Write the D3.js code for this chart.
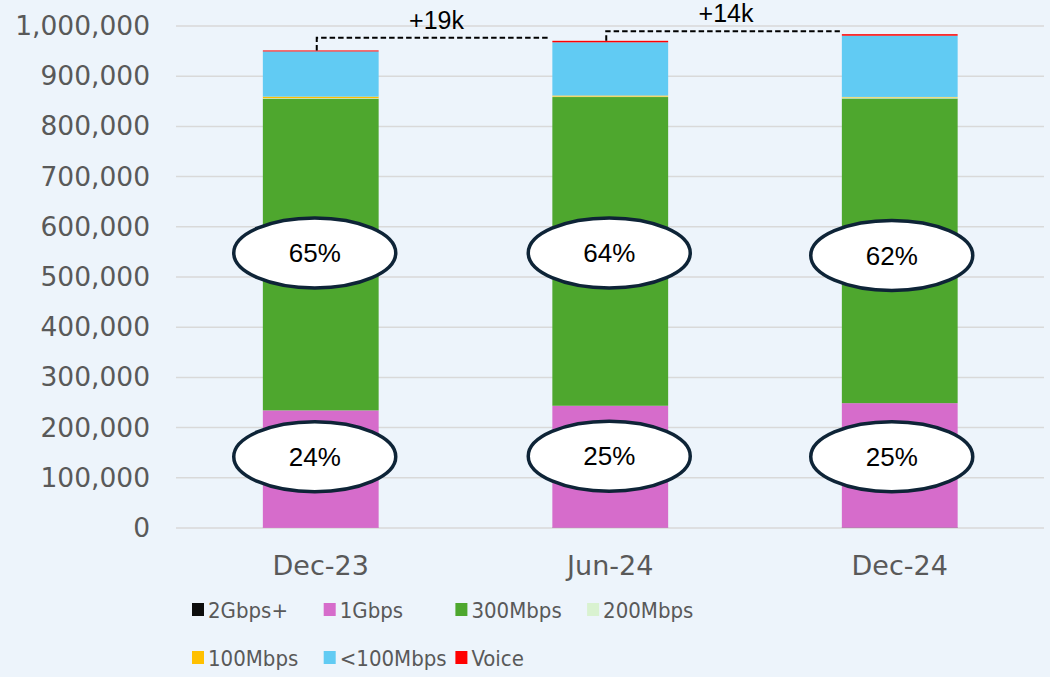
<!DOCTYPE html>
<html>
<head>
<meta charset="utf-8">
<script src="https://cdn.jsdelivr.net/npm/d3@7"></script>
<style>
  body { margin: 0; background: #edf4fb; }
  svg { display: block; }
</style>
</head>
<body>
<div id="chart"></div>
<script>
// data
const periods = ["Dec-23", "Jun-24", "Dec-24"];
const speeds = ["2Gbps+", "1Gbps", "300Mbps", "200Mbps", "100Mbps", "<100Mbps", "Voice"];
const gbps2 = [300, 500, 700];
const gbps1 = [234000, 243000, 248000];
const mbps300 = [621000, 615000, 607000];
const mbps200 = [1000, 1000, 2000];
const mbps100 = [3000, 2000, 1000];
const under100 = [90000, 106000, 122000];
const voice = [2000, 3000, 3000];
const share300 = ["65%", "64%", "62%"];
const share1g = ["24%", "25%", "25%"];
const deltas = ["+19k", "+14k"];
const yTicks = [0, 100000, 200000, 300000, 400000, 500000, 600000, 700000, 800000, 900000, 1000000];

const colors = ["#0d0d0d", "#d66ccb", "#4ea72e", "#d9f2d0", "#ffc000", "#61cbf3", "#ff0000"];

const series = [gbps2, gbps1, mbps300, mbps200, mbps100, under100, voice];
const rows = periods.map((p, i) => {
  const r = {period: p};
  speeds.forEach((s, k) => { r[s] = series[k][i]; });
  return r;
});

const W = 1050, H = 677;
const margin = {top: 26, right: 6, bottom: 149, left: 176};
const width = W - margin.left - margin.right,
      height = H - margin.top - margin.bottom;

const svg = d3.select("#chart").append("svg")
    .attr("width", W)
    .attr("height", H)
    .style("background", "#edf4fb");

const g = svg.append("g")
    .attr("transform", `translate(${margin.left}, ${margin.top})`);

const x = d3.scaleBand().domain(periods).range([0, width + 0.5])
    .paddingInner(0.6).paddingOuter(0.3);
const y = d3.scaleLinear().domain([0, 1000000]).range([height, 0]);

// gridlines
g.append("g")
  .selectAll("line")
  .data(yTicks)
  .join("line")
    .attr("x1", 0)
    .attr("x2", width)
    .attr("y1", d => y(d))
    .attr("y2", d => y(d))
    .attr("stroke", "#d9d9d9")
    .attr("stroke-width", 1.5);

// y axis labels
const yAxis = g.append("g")
  .call(d3.axisLeft(y).tickValues(yTicks).tickFormat(d3.format(",")).tickSize(0).tickPadding(26));
yAxis.select(".domain").remove();
yAxis.selectAll("text")
  .attr("fill", "#595959")
  .style("font-family", "'DejaVu Sans', Verdana, sans-serif")
  .style("font-size", "26.5px");

// x axis labels
const xAxis = g.append("g")
  .attr("transform", `translate(0, ${height})`)
  .call(d3.axisBottom(x).tickSize(0).tickPadding(28));
xAxis.select(".domain").remove();
xAxis.selectAll("text")
  .attr("fill", "#595959")
  .style("font-family", "'DejaVu Sans', Verdana, sans-serif")
  .style("font-size", "27px");

// stacked bars
const stacked = d3.stack().keys(speeds)(rows);

g.append("g")
  .selectAll("g")
  .data(stacked)
  .join("g")
    .attr("fill", (d, i) => colors[i])
  .selectAll("rect")
  .data(d => d)
  .join("rect")
    .attr("x", d => x(d.data.period))
    .attr("y", d => y(d[1]))
    .attr("width", x.bandwidth())
    .attr("height", d => y(d[0]) - y(d[1]));

// growth connectors
const totals = rows.map(r => d3.sum(speeds, s => r[s]));
const ann = g.append("g");
deltas.forEach((lbl, i) => {
  const x0 = x(periods[i]) + x.bandwidth() / 2 - 4;
  const x1 = x(periods[i + 1]) - 2;
  const yTop = y(totals[i + 1]) - 3;
  ann.append("path")
    .attr("d", `M${x0},${y(totals[i])} V${yTop} H${x1}`)
    .attr("fill", "none")
    .attr("stroke", "#000")
    .attr("stroke-width", 2)
    .attr("stroke-dasharray", "5.5,3");
  ann.append("text")
    .attr("x", (x0 + x1) / 2 + 3)
    .attr("y", yTop - 9)
    .attr("text-anchor", "middle")
    .style("font-family", "'Liberation Sans', Arial, sans-serif")
    .style("font-size", "25px")
    .text(lbl);
});

// share ellipses
const ellOffset = [-6, -1, -8];
function bubbles(labels, yc) {
  labels.forEach((lbl, i) => {
    const cx = x(periods[i]) + x.bandwidth() / 2 + ellOffset[i];
    ann.append("ellipse")
      .attr("cx", cx)
      .attr("cy", yc[i])
      .attr("rx", 81)
      .attr("ry", 35)
      .attr("fill", "#fff")
      .attr("stroke", "#0e2437")
      .attr("stroke-width", 3.5);
    ann.append("text")
      .attr("x", cx)
      .attr("y", yc[i])
      .attr("dy", "0.35em")
      .attr("text-anchor", "middle")
      .style("font-family", "'Liberation Sans', Arial, sans-serif")
      .style("font-size", "26px")
      .text(lbl);
  });
}
bubbles(share300, [y(548000), y(548000), y(543000)]);
bubbles(share1g, [y(142000), y(143000), y(142000)]);

// legend
const legend = svg.append("g")
  .style("font-family", "'DejaVu Sans Condensed', 'DejaVu Sans', sans-serif")
  .style("font-size", "22px");
const item = legend.selectAll("g")
  .data(speeds)
  .join("g")
    .attr("transform", (d, i) => `translate(${192 + (i % 4) * 131.7}, ${i < 4 ? 610 : 658})`);
item.append("rect")
  .attr("x", 0)
  .attr("y", -7)
  .attr("width", 12)
  .attr("height", 13)
  .attr("fill", (d, i) => colors[i]);
item.append("text")
  .attr("x", 16)
  .attr("dy", "0.36em")
  .attr("fill", "#595959")
  .text(d => d);
</script>
</body>
</html>
